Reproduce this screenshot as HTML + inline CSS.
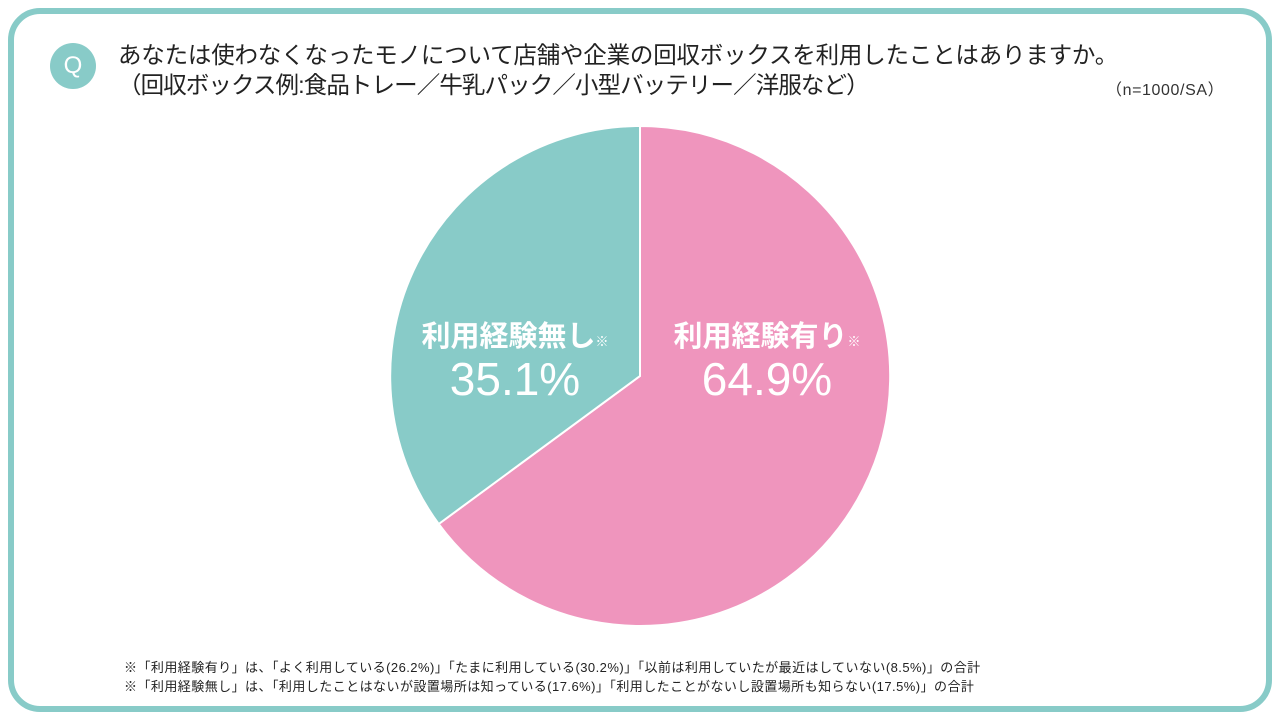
<!DOCTYPE html>
<html><head><meta charset="utf-8"><style>
body{margin:0;width:1280px;height:720px;background:#fff;overflow:hidden;position:relative;font-family:"Liberation Sans","Noto Sans CJK JP",sans-serif;color:#222}
.frame{position:absolute;left:8px;top:8px;width:1252px;height:692px;border:6px solid #88cbc8;border-radius:32px}
.q{position:absolute;left:50px;top:43px;width:46px;height:46px;border-radius:50%;background:#88cbc8;color:#fff;font-size:24px;line-height:46px;text-align:center}
.t{position:absolute;left:118px;font-size:23.5px;white-space:nowrap;letter-spacing:-0.2px}
.n{position:absolute;left:1106px;top:76px;font-size:16px;color:#333;letter-spacing:0.6px}
.f{position:absolute;left:124px;font-size:13px;white-space:nowrap;letter-spacing:0.45px}
.lab{position:absolute;color:#fff;text-align:center;font-weight:bold;white-space:nowrap}
.lab .a{font-size:29px}
.lab .s{font-size:13px;font-weight:normal}
.lab .p{font-size:46px;font-weight:normal;line-height:48px}
</style></head><body>
<div class="frame"></div>
<div class="q">Q</div>
<div class="t" style="top:36px">あなたは使わなくなったモノについて店舗や企業の回収ボックスを利用したことはありますか。</div>
<div class="t" style="top:66px;letter-spacing:-0.9px">（回収ボックス例:食品トレー／牛乳パック／小型バッテリー／洋服など）</div>
<div class="n">（n=1000/SA）</div>
<svg style="position:absolute;left:0;top:0" width="1280" height="720">
<path d="M640,376 L640,126 A250,250 0 1 1 438.7,524 Z" fill="#ef95bd" stroke="#fff" stroke-width="2"/>
<path d="M640,376 L438.7,524 A250,250 0 0 1 640,126 Z" fill="#88cbc8" stroke="#fff" stroke-width="2"/>
</svg>
<div class="lab" style="left:410px;top:313px;width:210px"><span class="a">利用経験無し</span><span class="s">※</span><div class="p">35.1%</div></div>
<div class="lab" style="left:662px;top:313px;width:210px"><span class="a">利用経験有り</span><span class="s">※</span><div class="p">64.9%</div></div>
<div class="f" style="top:657px">※「利用経験有り」は、「よく利用している(26.2%)」「たまに利用している(30.2%)」「以前は利用していたが最近はしていない(8.5%)」の合計</div>
<div class="f" style="top:676px">※「利用経験無し」は、「利用したことはないが設置場所は知っている(17.6%)」「利用したことがないし設置場所も知らない(17.5%)」の合計</div>
</body></html>
